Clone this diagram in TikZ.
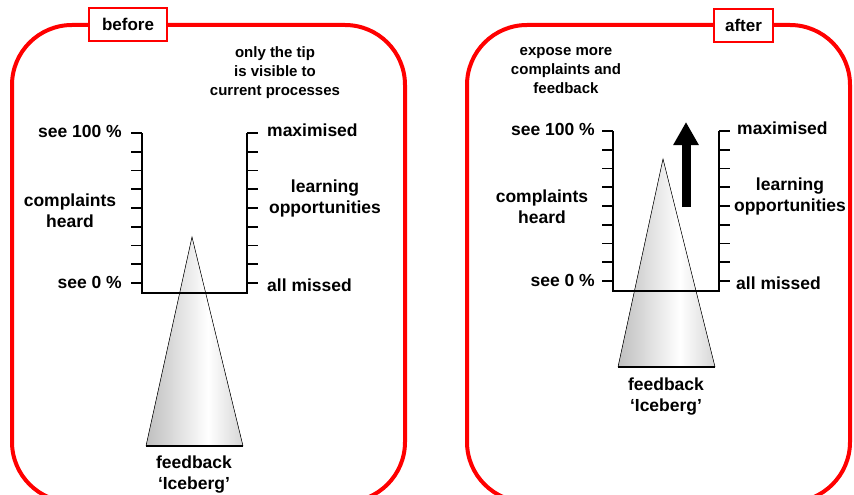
\documentclass[tikz,border=0pt]{standalone}
\usepackage{fontspec}
\setmainfont{Liberation Sans}
\usetikzlibrary{arrows.meta,positioning,calc}
\definecolor{ink}{HTML}{000000}
\definecolor{frame}{HTML}{FF0000}
\definecolor{icedark}{HTML}{8C8C8C}
\pgfdeclarehorizontalshading{iceshade}{100bp}{%
  color(0bp)=(icedark); color(57bp)=(white); color(100bp)=(icedark!85!white)}
\tikzset{
  figbase/.style={
    x=1pt, y=-1pt,
    color=ink,
    line cap=butt,
    line join=miter,
  },
  panel/.style={draw=frame, line width=4pt, rounded corners=60pt},
  tagbox/.style={
    draw=frame, line width=1.3pt, fill=white,
    font=\bfseries\fontsize{17}{20}\selectfont,
    minimum height=33pt, inner sep=0pt,
  },
  lbl/.style={font=\bfseries\fontsize{17.5}{21}\selectfont, align=center, inner sep=0pt},
  note/.style={font=\bfseries\fontsize{15}{19}\selectfont, align=center, inner sep=0pt},
  scaleline/.style={draw=ink, line width=1.6pt},
  ice/.style={shading=iceshade},
  iceedge/.style={draw=ink, line width=0.5pt},
  icebase/.style={draw=ink, line width=1.4pt},
  push/.style={-{Triangle[length=23pt,width=24pt]}, line width=9pt, draw=ink},
}

\begin{document}
\begin{tikzpicture}[figbase]
  \useasboundingbox (0,0) rectangle (854,495);
  \clip (0,0) rectangle (854,495);

  % two rounded frames, cut at the bottom edge
  \draw[panel] (12,25) rectangle (405,502);
  \draw[panel] (467,25) rectangle (850,502);
  \node[tagbox, minimum width=78pt] (before) at (128,24.5) {before};
  \node[tagbox, minimum width=59pt] (after) at (743.5,25.5) {after};

  % ---- before ----
  \begin{scope}[shift={(142,133)}]
    \coordinate (bapex) at (50,104);
    \coordinate (bleft) at (4,313);
    \coordinate (bright) at (101,313);
    \fill[ice] (bapex) -- (bleft) -- (bright) -- cycle;
    \draw[iceedge] (bleft) -- (bapex) -- (bright);
    \draw[icebase] (bleft) -- (bright);
    \draw[scaleline] (0,0) -- (0,160) -- (105,160) -- (105,0);
    \foreach \i in {0,...,8}
      \draw[scaleline] (-11,\i*18.75) -- (0,\i*18.75) (105,\i*18.75) -- (116,\i*18.75);
    \coordinate (btop) at (-11,0);
    \coordinate (bbot) at (-11,150);
    \coordinate (btopr) at (116,0);
    \coordinate (bbotr) at (116,150);
  \end{scope}
  \node[lbl, anchor=east] (bsee100) at ($(btop)+(-9,-2)$) {see 100 \%};
  \node[lbl, anchor=east] (bsee0) at ($(bbot)+(-9,-1)$) {see 0 \%};
  \node[lbl] (bheard) at (70,211) {complaints\\heard};
  \node[lbl, anchor=west] (bmax) at ($(btopr)+(9,-3)$) {maximised};
  \node[lbl, anchor=west] (bmissed) at ($(bbotr)+(9,2)$) {all missed};
  \node[lbl] (blearn) at (325,198) {learning\\opportunities};
  \node[note] (btip) at (275,73) {only the tip\\is visible to\\current processes};
  \node[lbl, below=10pt of bleft, anchor=north, xshift=48pt] (bberg) {feedback\\‘Iceberg’};

  % ---- after ----
  \begin{scope}[shift={(613,131)}]
    \coordinate (aapex) at (50,28);
    \coordinate (aleft) at (5,236);
    \coordinate (aright) at (102,236);
    \fill[ice] (aapex) -- (aleft) -- (aright) -- cycle;
    \draw[iceedge] (aleft) -- (aapex) -- (aright);
    \draw[icebase] (aleft) -- (aright);
    \draw[scaleline] (0,0) -- (0,160) -- (106,160) -- (106,0);
    \foreach \i in {0,...,8}
      \draw[scaleline] (-11,\i*18.75) -- (0,\i*18.75) (106,\i*18.75) -- (117,\i*18.75);
    \coordinate (atop) at (-11,0);
    \coordinate (abot) at (-11,150);
    \coordinate (atopr) at (117,0);
    \coordinate (abotr) at (117,150);
    \coordinate (rise0) at (73,76);
    \coordinate (rise1) at (73,-9);
  \end{scope}
  \draw[push] (rise0) -- (rise1);
  \node[lbl, anchor=east] (asee100) at ($(atop)+(-7,-2)$) {see 100 \%};
  \node[lbl, anchor=east] (asee0) at ($(abot)+(-7,-1)$) {see 0 \%};
  \node[lbl] (aheard) at (542,207) {complaints\\heard};
  \node[lbl, anchor=west] (amax) at ($(atopr)+(7,-3)$) {maximised};
  \node[lbl, anchor=west] (amissed) at ($(abotr)+(6,2)$) {all missed};
  \node[lbl] (alearn) at (790,196) {learning\\opportunities};
  \node[note] (aexpose) at (566,71) {expose more\\complaints and\\feedback};
  \node[lbl, below=11pt of aleft, anchor=north, xshift=48pt] (aberg) {feedback\\‘Iceberg’};
\end{tikzpicture}
\end{document}
